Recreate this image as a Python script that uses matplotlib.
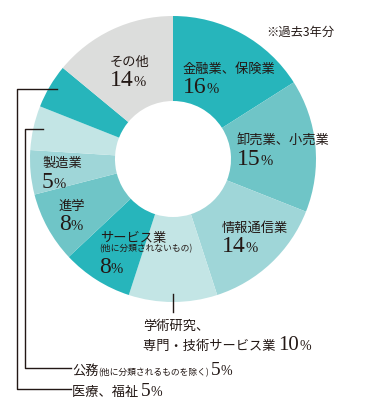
import matplotlib
matplotlib.use("Agg")
import matplotlib.pyplot as plt

# データ（時計回り、上から）
categories = ["金融業、保険業", "卸売業、小売業", "情報通信業",
              "学術研究、専門・技術サービス業", "サービス業（他に分類されないもの）",
              "進学", "製造業", "公務（他に分類されるものを除く）", "医療、福祉", "その他"]
shares = [16, 15, 14, 10, 8, 8, 5, 5, 5, 14]
colors = ["#27b5bb", "#6fc5c7", "#9fd6d8", "#c3e5e5",
          "#27b5bb", "#6fc5c7", "#9fd6d8", "#c3e5e5",
          "#27b5bb", "#dcdddc"]

W, H = 374, 410
JP = ["Noto Sans CJK JP", "DejaVu Sans"]
NUM = ["Liberation Serif", "DejaVu Serif"]
TXT = "#231815"

fig = plt.figure(figsize=(W / 100, H / 100), dpi=100)
ax = fig.add_axes([0, 0, 1, 1])
ax.pie(shares, colors=colors, startangle=90, counterclock=False,
       center=(173, H - 160), radius=143,
       wedgeprops=dict(width=85, linewidth=0))
ax.set_xlim(0, W)
ax.set_ylim(0, H)
ax.set_aspect("equal")
ax.axis("off")

renderer = fig.canvas.get_renderer()


def run(x, y, parts):
    # 文字列を横に並べて描く (y はピクセル、上から)
    for s, size, fam in parts:
        t = ax.text(x, H - y, s, fontsize=size, family=fam, color=TXT,
                    va="baseline", ha="left")
        bb = t.get_window_extent(renderer)
        x += bb.width


def label(x, y, name, num, gap=20):
    run(x, y, [(name, 9.5, JP)])
    run(x, y + gap, [(num, 17, NUM), ("%", 10.5, NUM)])


run(266, 36, [("※過去3年分", 8.8, JP)])
label(110, 66, "その他", "14")
label(183, 73, "金融業、保険業", "16")
label(237, 145, "卸売業、小売業", "15")
label(222, 232, "情報通信業", "14")
label(42, 167, "製造業", "5", gap=21)
label(59, 210, "進学", "8")
run(100, 242, [("サービス業", 9.5, JP)])
run(99, 251, [("(他に分類されないもの)", 6.3, JP)])
run(99, 273, [("8", 17, NUM), ("%", 10.5, NUM)])

run(143, 330, [("学術研究、", 9.5, JP)])
run(143, 350, [("専門・技術サービス業 ", 9.5, JP), ("10", 15, NUM), ("%", 10, NUM)])
run(72, 375, [("公務", 9.5, JP), ("(他に分類されるものを除く)", 6.3, JP), (" ", 6, JP),
              ("5", 14, NUM), ("%", 10, NUM)])
run(72, 396, [("医療、福祉 ", 9.5, JP), ("5", 14, NUM), ("%", 10, NUM)])

# 引き出し線
lw = 1.0
ax.plot([173, 173], [H - 295, H - 313], color=TXT, lw=lw)
ax.plot([43, 25, 25, 71], [H - 130, H - 130, H - 369, H - 369], color=TXT, lw=lw)
ax.plot([57, 17, 17, 71], [H - 90, H - 90, H - 390, H - 390], color=TXT, lw=lw)

fig.savefig("out.png", dpi=100)
